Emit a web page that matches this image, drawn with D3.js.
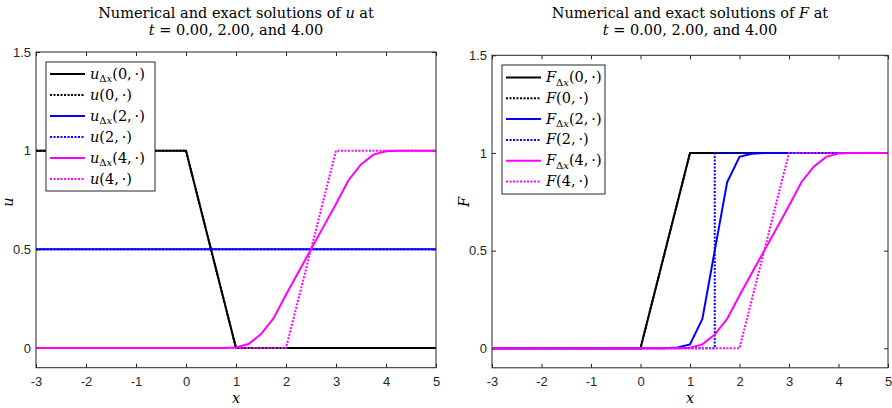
<!DOCTYPE html>
<html>
<head>
<meta charset="utf-8">
<script src="https://cdn.jsdelivr.net/npm/d3@7"></script>
<style>
  body { margin: 0; background: #fff; }
  .tick text { font-family: "Liberation Sans", Arial, sans-serif; font-size: 13px; fill: #262626; }
  .tick line { stroke: #262626; }
  .math { font-family: "DejaVu Serif", "Liberation Serif", serif; fill: #000; }
</style>
</head>
<body>
<svg id="fig" width="892" height="408"></svg>
<script>
// ---- data ----
var xTicks = [-3, -2, -1, 0, 1, 2, 3, 4, 5];
var yTicks = [0, 0.5, 1, 1.5];
var tLabels = ["0", "2", "4"];
var seriesColors = ["#000000", "#0000ff", "#ff00ff"];

// left panel, u
var u0NumX = [-3, 0, 1, 5],          u0NumY = [1, 1, 0, 0];
var u0ExX  = [-3, 0, 1, 5],          u0ExY  = [1, 1, 0, 0];
var u2NumX = [-3, 5],                u2NumY = [0.5, 0.5];
var u2ExX  = [-3, 5],                u2ExY  = [0.5, 0.5];
var u4NumX = [-3, 0.75, 1, 1.25, 1.5, 1.75, 2, 2.25, 2.5, 2.75, 3, 3.25, 3.5, 3.75, 4, 4.25, 5];
var u4NumY = [0, 0, 0.003, 0.02, 0.07, 0.15, 0.27, 0.385, 0.5, 0.615, 0.73, 0.85, 0.93, 0.98, 0.997, 1, 1];
var u4ExX  = [-3, 2, 3, 5],          u4ExY  = [0, 0, 1, 1];

// right panel, F
var F0NumX = [-3, 0, 1, 5],          F0NumY = [0, 0, 1, 1];
var F0ExX  = [-3, 0, 1, 5],          F0ExY  = [0, 0, 1, 1];
var F2NumX = [-3, 0.5, 0.75, 1, 1.25, 1.5, 1.75, 2, 2.25, 2.5, 5];
var F2NumY = [0, 0, 0.004, 0.02, 0.15, 0.5, 0.85, 0.98, 0.996, 1, 1];
var F2ExX  = [-3, 1.5, 1.5, 5],      F2ExY  = [0, 0, 1, 1];
var F4NumX = [-3, 0.75, 1, 1.25, 1.5, 1.75, 2, 2.25, 2.5, 2.75, 3, 3.25, 3.5, 3.75, 4, 4.25, 5];
var F4NumY = [0, 0, 0.003, 0.02, 0.07, 0.15, 0.27, 0.385, 0.5, 0.615, 0.73, 0.85, 0.93, 0.98, 0.997, 1, 1];
var F4ExX  = [-3, 2, 3, 5],          F4ExY  = [0, 0, 1, 1];

function pts(xs, ys) { return xs.map(function (x, i) { return [x, ys[i]]; }); }

var panels = [
  { letter: "u", left: 36, right: 436, top: 52, bottom: 367.7, center: 236,
    ylabX: 12.5, legX: 46, legY: 62, legW: 109, legH: 129, rowY0: 74, rowStep: 21,
    series: [
      { d: pts(u0NumX, u0NumY), c: 0, num: true },
      { d: pts(u0ExX, u0ExY),   c: 0, num: false },
      { d: pts(u2NumX, u2NumY), c: 1, num: true },
      { d: pts(u2ExX, u2ExY),   c: 1, num: false },
      { d: pts(u4NumX, u4NumY), c: 2, num: true },
      { d: pts(u4ExX, u4ExY),   c: 2, num: false } ] },
  { letter: "F", left: 492, right: 888, top: 55.3, bottom: 367.8, center: 690,
    ylabX: 468.5, legX: 502, legY: 65, legW: 103, legH: 129, rowY0: 77.5, rowStep: 20.8,
    series: [
      { d: pts(F0NumX, F0NumY), c: 0, num: true },
      { d: pts(F0ExX, F0ExY),   c: 0, num: false },
      { d: pts(F2NumX, F2NumY), c: 1, num: true },
      { d: pts(F2ExX, F2ExY),   c: 1, num: false },
      { d: pts(F4NumX, F4NumY), c: 2, num: true },
      { d: pts(F4ExX, F4ExY),   c: 2, num: false } ] }
];

var svg = d3.select("#fig");

panels.forEach(function (p) {
  var x = d3.scaleLinear().domain([-3, 5]).range([p.left, p.right]);
  var y = d3.scaleLinear().domain([-0.1, 1.5]).range([p.bottom, p.top]);
  var g = svg.append("g");
  var fmt = function (d) { return String(d); };

  // ticks (inward, all four sides)
  g.append("g").attr("transform", "translate(0," + p.bottom + ")")
    .call(d3.axisBottom(x).tickValues(xTicks).tickFormat(fmt).tickSizeInner(-4).tickSizeOuter(0).tickPadding(9));
  g.append("g").attr("transform", "translate(0," + p.top + ")")
    .call(d3.axisTop(x).tickValues(xTicks).tickFormat("").tickSizeInner(-4).tickSizeOuter(0));
  g.append("g").attr("transform", "translate(" + p.left + ",0)")
    .call(d3.axisLeft(y).tickValues(yTicks).tickFormat(fmt).tickSizeInner(-4).tickSizeOuter(0).tickPadding(5));
  g.append("g").attr("transform", "translate(" + p.right + ",0)")
    .call(d3.axisRight(y).tickValues(yTicks).tickFormat("").tickSizeInner(-4).tickSizeOuter(0));
  g.selectAll(".domain").remove();

  // lines
  var line = d3.line().x(function (d) { return x(d[0]); }).y(function (d) { return y(d[1]); });
  p.series.forEach(function (s) {
    g.append("path").datum(s.d)
      .attr("d", line)
      .attr("fill", "none")
      .attr("stroke", seriesColors[s.c])
      .attr("stroke-width", 2)
      .attr("stroke-dasharray", s.num ? null : "2,1.5");
  });

  // box
  g.append("rect").attr("x", p.left).attr("y", p.top)
    .attr("width", p.right - p.left).attr("height", p.bottom - p.top)
    .attr("fill", "none").attr("stroke", "#262626").attr("stroke-width", 1);

  // titles
  var t1 = g.append("text").attr("class", "math").attr("x", p.center).attr("y", 17.5)
    .attr("text-anchor", "middle").style("font-size", "14.5px");
  t1.append("tspan").text("Numerical and exact solutions of ");
  t1.append("tspan").style("font-style", "italic").text(p.letter);
  t1.append("tspan").text(" at");
  var t2 = g.append("text").attr("class", "math").attr("x", p.center).attr("y", 34.5)
    .attr("text-anchor", "middle").style("font-size", "14.5px");
  t2.append("tspan").style("font-style", "italic").text("t");
  t2.append("tspan").text(" = 0.00, 2.00, and 4.00");

  // axis labels
  g.append("text").attr("class", "math").attr("x", p.center).attr("y", 403)
    .attr("text-anchor", "middle").style("font-size", "14.5px").style("font-style", "italic").text("x");
  g.append("text").attr("class", "math")
    .attr("transform", "translate(" + p.ylabX + ",202) rotate(-90)")
    .attr("text-anchor", "middle").style("font-size", "14.5px").style("font-style", "italic").text(p.letter);

  // legend
  var lg = g.append("g");
  lg.append("rect").attr("x", p.legX).attr("y", p.legY).attr("width", p.legW).attr("height", p.legH)
    .attr("fill", "#fff").attr("stroke", "#262626").attr("stroke-width", 1);
  p.series.forEach(function (s, i) {
    var ry = p.rowY0 + i * p.rowStep;
    lg.append("line").attr("x1", p.legX + 4).attr("x2", p.legX + 39).attr("y1", ry).attr("y2", ry)
      .attr("stroke", seriesColors[s.c]).attr("stroke-width", 2)
      .attr("stroke-dasharray", s.num ? null : "2,1.5");
    var tx = lg.append("text").attr("class", "math").attr("x", p.legX + 44).attr("y", ry + 4.5)
      .style("font-size", "14.5px");
    tx.append("tspan").style("font-style", "italic").text(p.letter);
    if (s.num) {
      tx.append("tspan").attr("dy", 3.5).style("font-size", "10px").text("\u0394");
      tx.append("tspan").style("font-size", "10px").style("font-style", "italic").text("x");
      tx.append("tspan").attr("dy", -3.5).text("(" + tLabels[s.c] + ",\u2009\u00b7)");
    } else {
      tx.append("tspan").text("(" + tLabels[s.c] + ",\u2009\u00b7)");
    }
  });
});
</script>
</body>
</html>
